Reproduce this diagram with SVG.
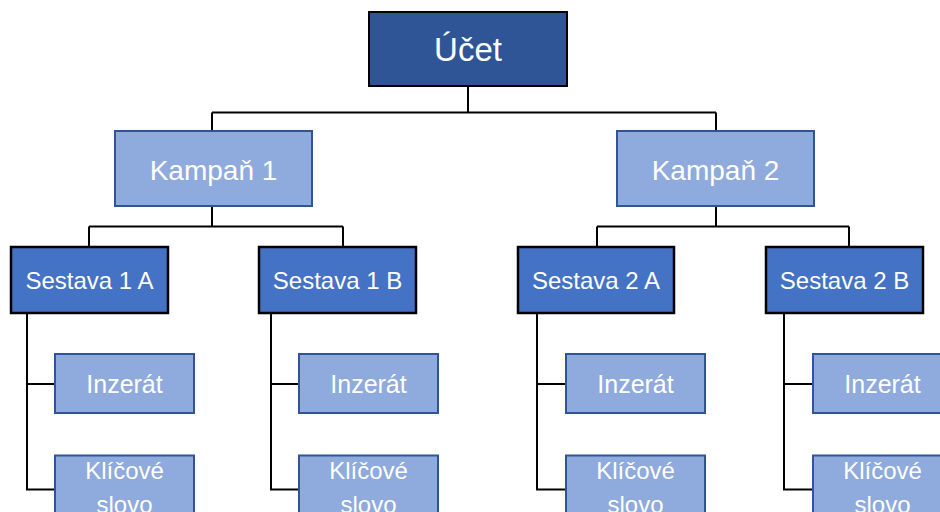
<svg xmlns="http://www.w3.org/2000/svg" width="940" height="512" viewBox="0 0 940 512">
<style>
.root{fill:#2F5597;stroke:#000;stroke-width:2}
.camp{fill:#8FAADC;stroke:#2F5597;stroke-width:2}
.set{fill:#4472C4;stroke:#000;stroke-width:2.5}
.leaf{fill:#8FAADC;stroke:#2F5597;stroke-width:2}
text{font-family:"Liberation Sans",Arial,sans-serif;fill:#fff;text-anchor:middle}
.t0{font-size:33px}
.t1{font-size:28px}
.t2{font-size:24px}
.t3{font-size:25px}
.t4{font-size:24px}
.conn{fill:none;stroke:#000;stroke-width:2}
</style>
<rect width="940" height="512" fill="#fff"/>
<g id="connectors" class="conn">
<path d="M468 86V112.5M212 112.5H716M212 112.5V131M716 112.5V131"/>
<path d="M212 206V226.5M89 226.5H343M89 226.5V247M343 226.5V247"/>
<path d="M716 206V226.5M597 226.5H849M597 226.5V247M849 226.5V247"/>
<path d="M27 313V489.5H55M27 384H55"/>
<path d="M271 313V489.5H299M271 384H299"/>
<path d="M537 313V489.5H566M537 384H566"/>
<path d="M784 313V489.5H813M784 384H813"/>
</g>
<g id="ucet"><rect class="root" x="369" y="12" width="198" height="74"/><text class="t0" x="468" y="61">Účet</text></g>
<g id="kampan1"><rect class="camp" x="115" y="131" width="197" height="75"/><text class="t1" x="213.5" y="180">Kampaň 1</text></g>
<g id="kampan2"><rect class="camp" x="617" y="131" width="197" height="75"/><text class="t1" x="715.5" y="180">Kampaň 2</text></g>
<g id="sestava1a"><rect class="set" x="11" y="247" width="157" height="66"/><text class="t2" x="89.5" y="289">Sestava 1 A</text></g>
<g id="sestava1b"><rect class="set" x="259" y="247" width="157" height="66"/><text class="t2" x="337.5" y="289">Sestava 1 B</text></g>
<g id="sestava2a"><rect class="set" x="518" y="247" width="156" height="66"/><text class="t2" x="596" y="289">Sestava 2 A</text></g>
<g id="sestava2b"><rect class="set" x="766" y="247" width="157" height="66"/><text class="t2" x="844.5" y="289">Sestava 2 B</text></g>
<g id="inzerat1a"><rect class="leaf" x="55" y="354" width="139" height="59"/><text class="t3" x="124.5" y="393">Inzerát</text></g>
<g id="inzerat1b"><rect class="leaf" x="299" y="354" width="139" height="59"/><text class="t3" x="368.5" y="393">Inzerát</text></g>
<g id="inzerat2a"><rect class="leaf" x="566" y="354" width="139" height="59"/><text class="t3" x="635.5" y="393">Inzerát</text></g>
<g id="inzerat2b"><rect class="leaf" x="813" y="354" width="139" height="59"/><text class="t3" x="882.5" y="393">Inzerát</text></g>
<g id="klic1a"><rect class="leaf" x="55" y="455.5" width="139" height="70"/><text class="t4" x="124.5" y="479">Klíčové</text><text class="t4" x="124.5" y="513">slovo</text></g>
<g id="klic1b"><rect class="leaf" x="299" y="455.5" width="139" height="70"/><text class="t4" x="368.5" y="479">Klíčové</text><text class="t4" x="368.5" y="513">slovo</text></g>
<g id="klic2a"><rect class="leaf" x="566" y="455.5" width="139" height="70"/><text class="t4" x="635.5" y="479">Klíčové</text><text class="t4" x="635.5" y="513">slovo</text></g>
<g id="klic2b"><rect class="leaf" x="813" y="455.5" width="139" height="70"/><text class="t4" x="882.5" y="479">Klíčové</text><text class="t4" x="882.5" y="513">slovo</text></g>
</svg>
